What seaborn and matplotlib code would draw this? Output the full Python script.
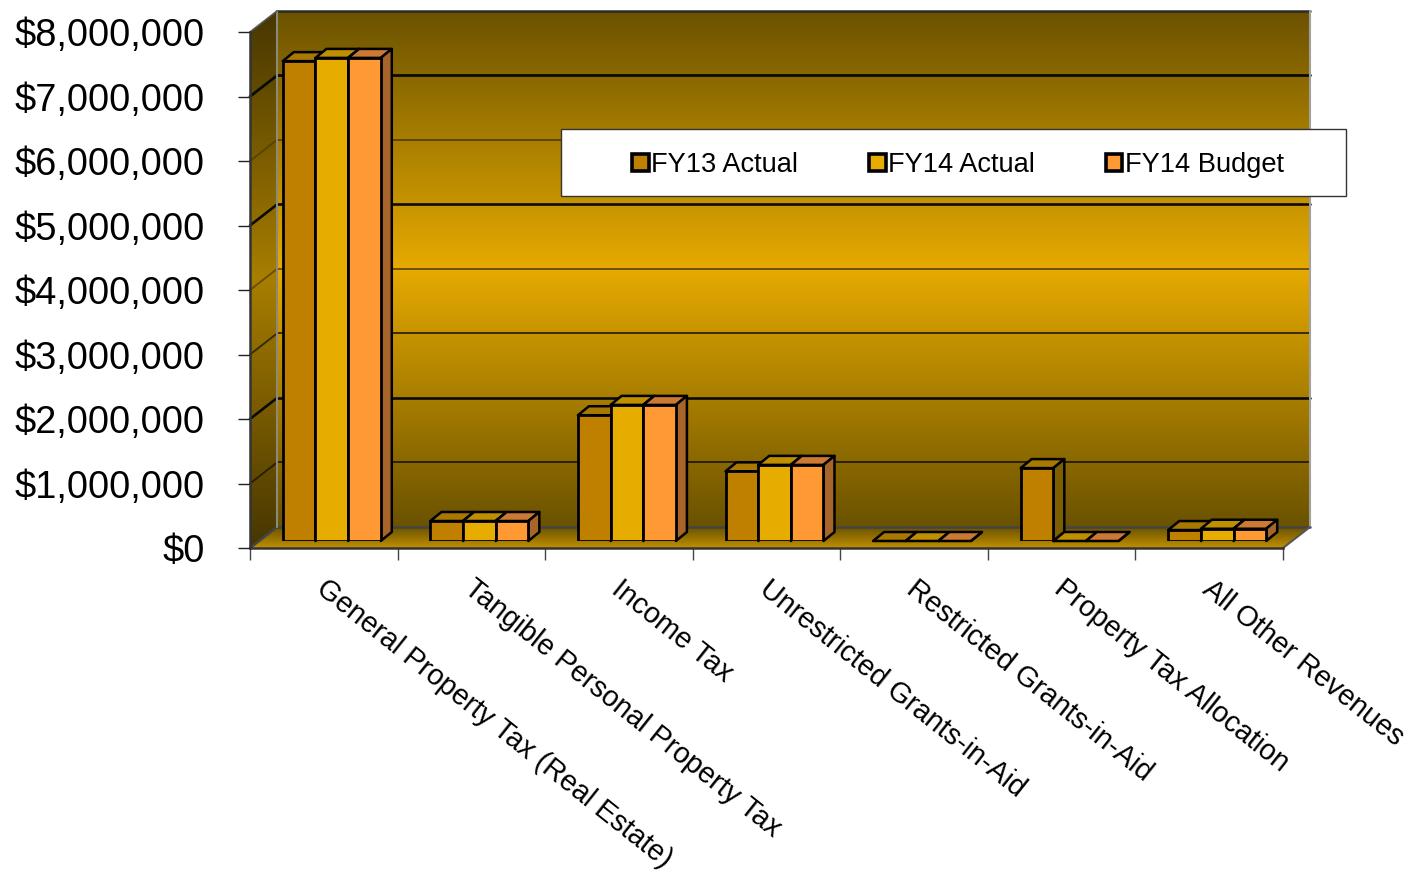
import matplotlib
matplotlib.use("Agg")
import matplotlib.pyplot as plt
import numpy as np
import pandas as pd
import seaborn as sns
from matplotlib.colors import LinearSegmentedColormap
from matplotlib.patches import Polygon, Rectangle
from matplotlib.ticker import FuncFormatter
from matplotlib.transforms import Affine2D

categories = [
    "General Property Tax (Real Estate)",
    "Tangible Personal Property Tax",
    "Income Tax",
    "Unrestricted Grants-in-Aid",
    "Restricted Grants-in-Aid",
    "Property Tax Allocation",
    "All Other Revenues",
]
series_names = ["FY13 Actual", "FY14 Actual", "FY14 Budget"]
fy13_actual = [7440000, 310000, 1950000, 1080000, 0, 1130000, 170000]
fy14_actual = [7490000, 310000, 2110000, 1180000, 0, 0, 190000]
fy14_budget = [7490000, 310000, 2110000, 1180000, 0, 0, 190000]
y_ticks = [0, 1000000, 2000000, 3000000, 4000000, 5000000, 6000000, 7000000, 8000000]

front_colors = ["#BF8000", "#E6AC00", "#FF9933"]
top_colors = ["#A87800", "#BE9000", "#CC7A33"]
side_colors = ["#7D5F00", "#9A7400", "#A8652A"]
grid_colors = ["#444444", "#2A2000", "#0A0A0A", "#3A2C00", "#6A5000", "#0A0A0A", "#5A4500", "#0A0A0A", "#3A2C00"]
grid_widths = [1.8, 1.4, 1.9, 1.4, 1.4, 1.9, 1.4, 2.0, 1.4]

W, H = 1412, 871
FRONT_L, FRONT_R, FRONT_T, FRONT_B = 250, 1283, 32, 548
WALL_DX, WALL_DY = 27, 21      # depth of the chart box
BAR_DX, BAR_DY = 8, 7          # bars stand a little behind the front edge
CAP_DX, CAP_DY = 11, 9         # depth of each bar

sns.set_theme(style="white")
plt.rcParams["font.family"] = ["Liberation Sans", "DejaVu Sans"]
plt.rcParams["text.color"] = "black"

df = pd.DataFrame({"category": categories, series_names[0]: fy13_actual,
                   series_names[1]: fy14_actual, series_names[2]: fy14_budget})
long_df = df.melt(id_vars="category", var_name="series", value_name="amount")

fig = plt.figure(figsize=(W / 100, H / 100), dpi=100, facecolor="white")


def box(left, top, right, bottom):
    return [left / W, 1 - bottom / H, (right - left) / W, (bottom - top) / H]


# Full-figure layer in pixel coordinates for the walls and floor of the box
scene = fig.add_axes([0, 0, 1, 1], zorder=0)
scene.set_xlim(0, W)
scene.set_ylim(H, 0)
scene.axis("off")

frame = fig.add_axes(box(FRONT_L, FRONT_T, FRONT_R, FRONT_B), zorder=1)
frame.patch.set_alpha(0)
bars = fig.add_axes(box(FRONT_L + BAR_DX, FRONT_T - BAR_DY, FRONT_R + BAR_DX, FRONT_B - BAR_DY), zorder=2)
bars.patch.set_alpha(0)

for a in (frame, bars):
    a.set_ylim(0, 8000000)
    a.set_xlim(-0.5, len(categories) - 0.5)

sns.barplot(data=long_df, x="category", y="amount", hue="series", hue_order=series_names,
            palette=front_colors, width=0.664, gap=0, saturation=1,
            edgecolor="black", linewidth=2.0, ax=bars)
bars.set_ylim(0, 8000000)
bars.set_xlim(-0.5, len(categories) - 0.5)


def gradient_fill(ax, poly_pts, stops, top, bottom, left, right, z):
    cmap = LinearSegmentedColormap.from_list("wall", stops)
    img = ax.imshow(np.linspace(0, 1, 512).reshape(-1, 1), cmap=cmap, aspect="auto",
                    extent=(left, right, bottom, top), zorder=z)
    clip = Polygon(poly_pts, closed=True, transform=ax.transData, facecolor="none", edgecolor="none")
    ax.add_patch(clip)
    img.set_clip_path(clip)


def front_y(value):
    return H - frame.transData.transform((0, value))[1]


y_top, y_bot = front_y(8000000), front_y(0)
back_t, back_b = y_top - WALL_DY, y_bot - WALL_DY
back_l, back_r = FRONT_L + WALL_DX, FRONT_R + WALL_DX

dark, gold, wall_dark, wall_mid = "#6B5200", "#E6AA00", "#463600", "#A87E00"
gradient_fill(scene, [(back_l, back_t), (back_r, back_t), (back_r, back_b), (back_l, back_b)],
              [dark, gold, dark], back_t, back_b, back_l, back_r, 1)
gradient_fill(scene, [(FRONT_L, y_top), (back_l, back_t), (back_l, back_b), (FRONT_L, y_bot)],
              [wall_dark, wall_mid, wall_dark], back_t, y_bot, FRONT_L, back_l, 1)
gradient_fill(scene, [(FRONT_L, y_bot), (FRONT_R, y_bot), (back_r, back_b), (back_l, back_b)],
              [dark, "#C09000"], back_b, y_bot, FRONT_L, back_r, 1)

# Gridlines run across the back wall and down the left wall
for value, color, lw in zip(y_ticks, grid_colors, grid_widths):
    y = front_y(value)
    if value < y_ticks[-1]:
        scene.plot([FRONT_L, back_l], [y, y - WALL_DY], color=color, lw=lw, zorder=2)
        scene.plot([back_l, back_r], [y - WALL_DY] * 2, color=color, lw=lw, zorder=2)

# Box outline
scene.plot([back_l, back_r], [back_t, back_t], color="#2A2A2A", lw=1.8, zorder=3)
scene.plot([back_l, back_l], [back_t, back_b], color="#8A8A7A", lw=1.5, zorder=3)
scene.plot([back_r, back_r], [back_t, back_b], color="#A0A0A0", lw=1.5, zorder=3)
scene.plot([FRONT_L, back_l], [y_top, back_t], color="#555555", lw=1.2, zorder=3)
scene.plot([FRONT_R, back_r], [y_bot, back_b], color="#555555", lw=1.5, zorder=3)

# Each bar gets a top and a right face taken from its drawn rectangle
rects = [p for p in bars.patches if isinstance(p, Rectangle)][:len(categories) * len(series_names)]
for i, rect in enumerate(rects):
    s = i // len(categories)
    rect.set_zorder(4)
    x0, y0 = bars.transData.transform((rect.get_x(), rect.get_y()))
    x1, y1 = bars.transData.transform((rect.get_x() + rect.get_width(), rect.get_y() + rect.get_height()))
    top_face = [(x0, y1), (x1, y1), (x1 + CAP_DX, y1 + CAP_DY), (x0 + CAP_DX, y1 + CAP_DY)]
    side_face = [(x1, y0), (x1 + CAP_DX, y0 + CAP_DY), (x1 + CAP_DX, y1 + CAP_DY), (x1, y1)]
    for pts, color in ((top_face, top_colors[s]), (side_face, side_colors[s])):
        bars.add_patch(Polygon(pts, closed=True, transform=None, facecolor=color, edgecolor="black",
                               linewidth=1.8, zorder=3, clip_on=False, joinstyle="round"))

# Frame axes carry the ticks and labels
frame.set_facecolor("none")
for name, spine in frame.spines.items():
    spine.set_visible(name in ("left", "bottom"))
    spine.set_color("#333333")
    spine.set_linewidth(1.8)
frame.set_yticks(y_ticks)
frame.yaxis.set_major_formatter(FuncFormatter(lambda v, _: f"${v:,.0f}"))
frame.tick_params(axis="y", which="major", left=True, length=8.5, width=1.0, color="#222222",
                  pad=24, labelsize=27.4, labelcolor="black")
frame.set_xticks(np.arange(len(categories)))
frame.set_xticklabels(categories, rotation=-38.5, ha="left", va="top", rotation_mode="anchor",
                      fontsize=20.6, color="black")
frame.set_xticks(np.arange(len(categories) + 1) - 0.5, minor=True)
frame.tick_params(axis="x", which="major", length=0, pad=19)
frame.tick_params(axis="x", which="minor", bottom=True, length=8.5, width=1.0, color="#444444")
for label in frame.get_xticklabels():
    label.set_transform(label.get_transform() + Affine2D().translate(5, 0))
frame.set_xlabel("")
frame.set_ylabel("")

bars.axis("off")

# Legend panel
bars.add_patch(Rectangle((561, H - 196), 785, 67, transform=None, facecolor="white",
                         edgecolor="#333333", linewidth=1.0, zorder=5, clip_on=False))
handles, labels = bars.get_legend_handles_labels()
legend = bars.legend(handles, labels, ncol=3, frameon=False, loc="center left",
                     bbox_to_anchor=(632 / W, 1 - 165 / H), bbox_transform=fig.transFigure,
                     fontsize=19.6, handlelength=0.62, handleheight=0.62, handletextpad=0.08,
                     columnspacing=2.6, borderpad=0, borderaxespad=0)
legend.set_zorder(6)
for h in legend.legend_handles:
    h.set_edgecolor("black")
    h.set_linewidth(2.6)
for t in legend.get_texts():
    t.set_color("black")

fig.savefig("out.png", dpi=100)
